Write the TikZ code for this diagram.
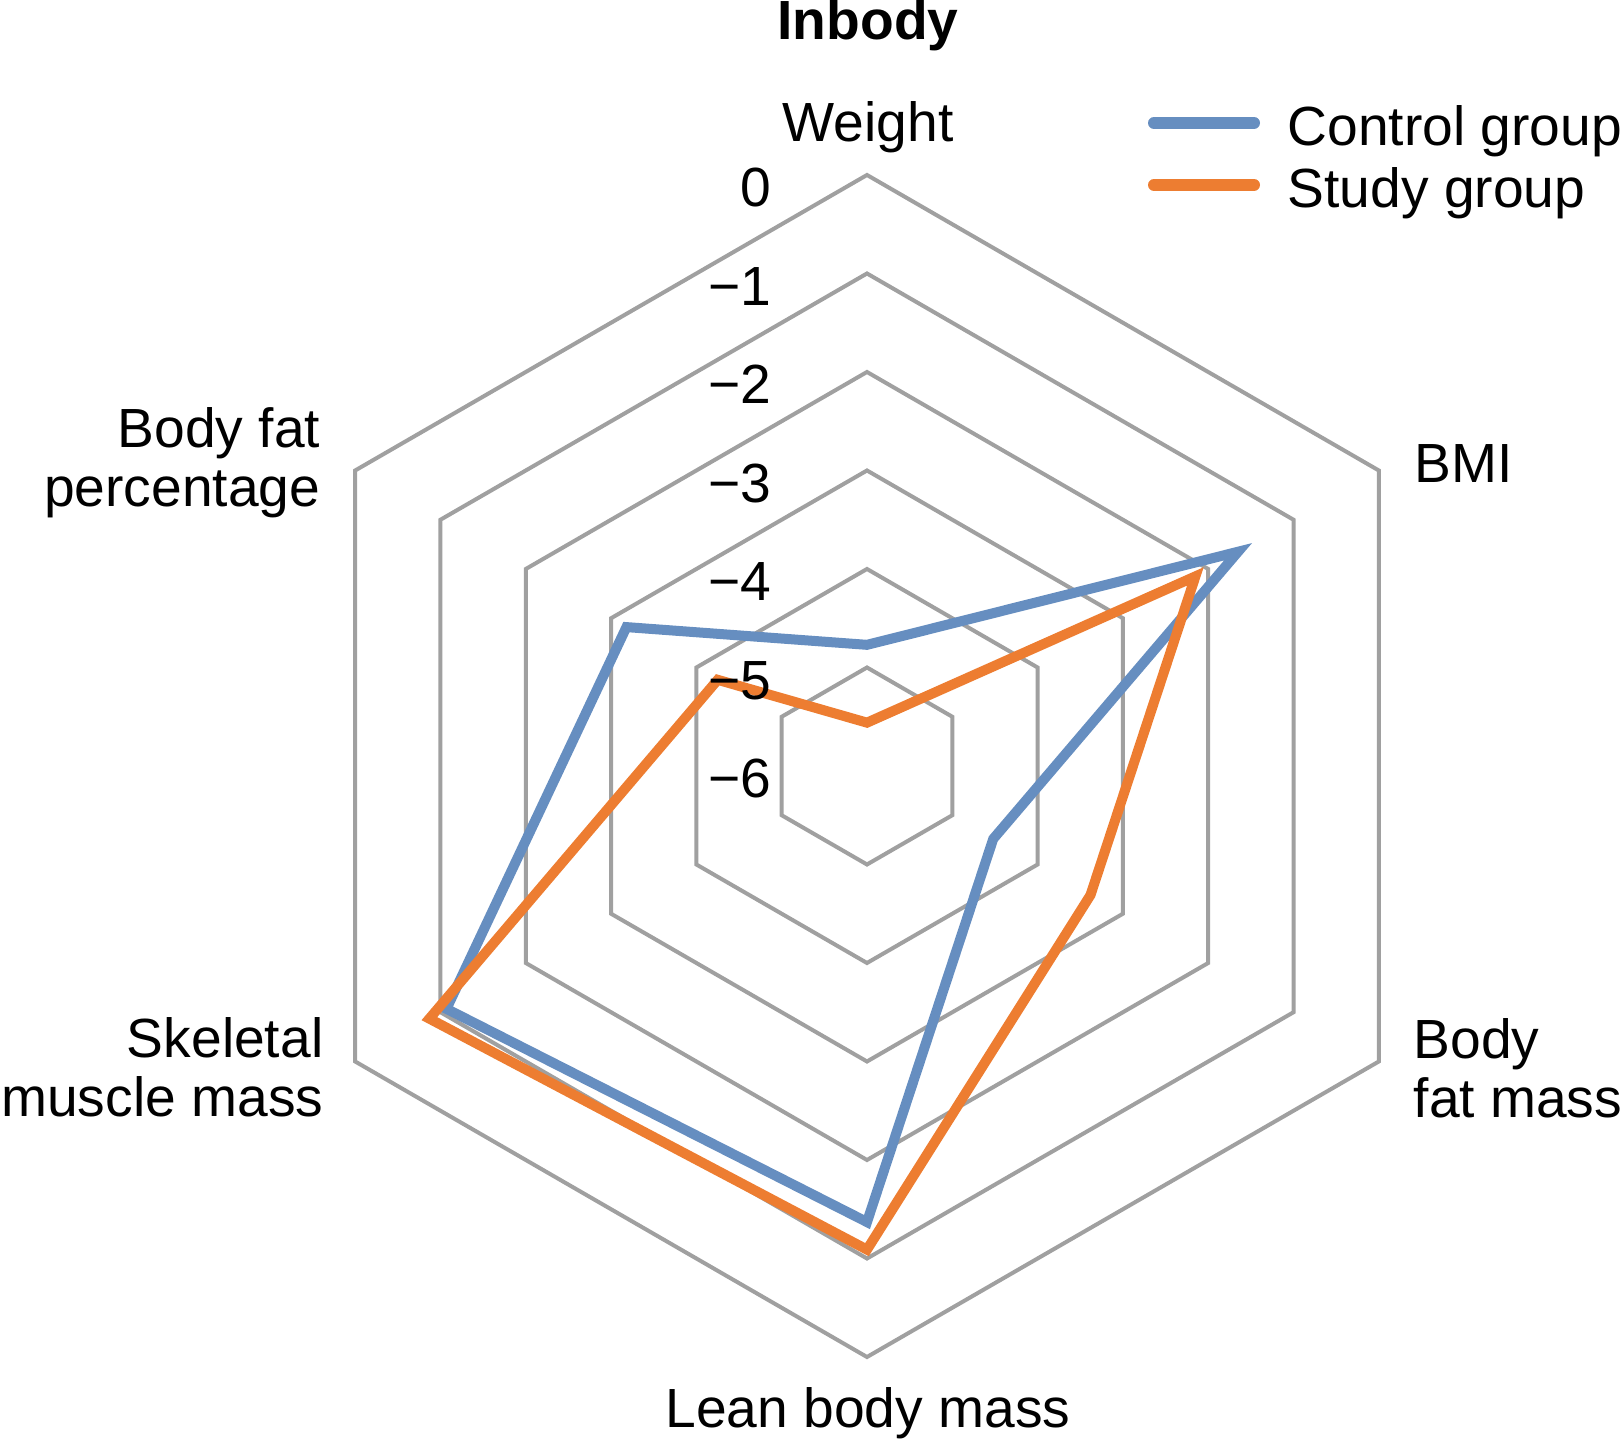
\documentclass[tikz,border=0pt]{standalone}
\usepackage{fontspec}
\setmainfont{Liberation Sans}
\definecolor{ctrlblue}{RGB}{102,142,192}
\definecolor{studyorange}{RGB}{237,125,49}
\definecolor{gridgray}{RGB}{160,160,160}
\begin{document}
\begin{tikzpicture}[font=\fontsize{15.7}{16.8}\selectfont,
    ring/.style={draw=gridgray, line width=0.04cm},
    series/.style={line width=0.1cm, line join=miter},
    keyline/.style={line width=0.12cm, line cap=round},
    lbl/.style={inner sep=0pt}]
\useasboundingbox (-8.67,-6.78) rectangle (7.55,7.66);

% hexagon grid, one ring per unit
\foreach \k [evaluate=\k as \r using \k*0.985] in {1,...,6}
  \draw[ring] (90:\r) -- (30:\r) -- (-30:\r) -- (-90:\r) -- (-150:\r) -- (150:\r) -- cycle;

% data points: weight, BMI, body fat mass, lean body mass, skeletal muscle mass, body fat percentage
\foreach \ang/\v [count=\i, evaluate=\v as \r using (\v+6)*0.985] in {90/-4.77, 30/-1.65, -30/-4.52, -90/-1.37, -150/-1.07, 150/-3.18}
  \coordinate (ctrl\i) at (\ang:\r);
\foreach \ang/\v [count=\i, evaluate=\v as \r using (\v+6)*0.985] in {90/-5.56, 30/-2.15, -30/-3.38, -90/-1.09, -150/-0.87, 150/-4.25}
  \coordinate (study\i) at (\ang:\r);

\draw[series, ctrlblue] (ctrl1) -- (ctrl2) -- (ctrl3) -- (ctrl4) -- (ctrl5) -- (ctrl6) -- cycle;
\draw[series, studyorange] (study1) -- (study2) -- (study3) -- (study4) -- (study5) -- (study6) -- cycle;

% scale
\foreach \k in {0,...,6}
  \node[lbl, anchor=base east] (tick\k) at (-0.95, {(6-\k)*0.985-0.32}) {\ifnum\k=0 0\else −\k\fi};

% axis names
\node[lbl, anchor=base] (title) at (0.01,7.26) {\bfseries Inbody};
\node[lbl, anchor=base] (weight) at (0.01,6.24) {Weight};
\node[lbl, anchor=base west] (bmi) at (5.47,2.83) {BMI};
\node[lbl, anchor=base west, align=left] (bfm) at (5.46,-3.52) {Body\\fat mass};
\node[lbl, anchor=base] (lbm) at (0.01,-6.62) {Lean body mass};
\node[lbl, anchor=base east, align=right] (smm) at (-5.43,-3.51) {Skeletal\\muscle mass};
\node[lbl, anchor=base east, align=right] (bfp) at (-5.46,2.59) {Body fat\\percentage};

% legend
\coordinate (keyctrlA) at (2.87,6.43);
\coordinate (keyctrlB) at (3.87,6.43);
\coordinate (keystudyA) at (2.87,5.81);
\coordinate (keystudyB) at (3.87,5.81);
\draw[keyline, ctrlblue] (keyctrlA) -- (keyctrlB);
\draw[keyline, studyorange] (keystudyA) -- (keystudyB);
\node[lbl, anchor=base west] (ctrltext) at (4.20,6.20) {Control group};
\node[lbl, anchor=base west] (studytext) at (4.20,5.58) {Study group};
\end{tikzpicture}
\end{document}
